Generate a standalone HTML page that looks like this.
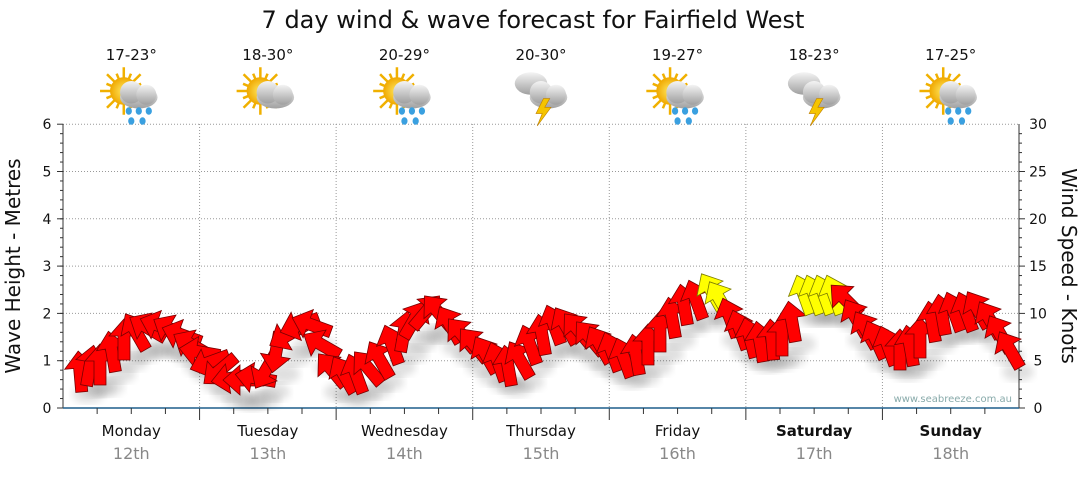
<!DOCTYPE html>
<html><head><meta charset="utf-8"><style>
body{margin:0;background:#fff;width:1080px;height:475px;overflow:hidden;font-family:"DejaVu Sans","Liberation Sans",sans-serif}
</style></head><body>
<svg id="s" width="1080" height="475" xmlns="http://www.w3.org/2000/svg" font-family="DejaVu Sans, Liberation Sans, sans-serif">
<defs>
<radialGradient id="sun" cx="50%" cy="50%" r="50%"><stop offset="0" stop-color="#ffe860"/><stop offset="1" stop-color="#f0a800"/></radialGradient>
<linearGradient id="cl" x1="0" y1="0" x2="0" y2="1"><stop offset="0" stop-color="#f4f4f4"/><stop offset="1" stop-color="#a0a0a0"/></linearGradient>
<filter id="sh"><feGaussianBlur stdDeviation="4"/></filter>
</defs>
<text x="533" y="28" font-size="24" text-anchor="middle" fill="#111">7 day wind &amp; wave forecast for Fairfield West</text>
<g id="g"></g>
</svg>
<script>
const NS="http://www.w3.org/2000/svg",g=document.getElementById('g');
function el(t,a,p){const e=document.createElementNS(NS,t);for(const k in a)e.setAttribute(k,a[k]);(p||g).appendChild(e);return e;}
function tx(x,y,s,a,fill,size,w){const e=el('text',{x,y,'text-anchor':a||'middle',fill:fill||'#111','font-size':size||14});if(w)e.setAttribute('font-weight',w);e.textContent=s;return e;}
const L=63,R=1019,Y0=408,PM=47.3,DW=(R-L)/7;
for(let i=1;i<=6;i++){const y=Y0-i*PM;el('line',{x1:L,x2:R,y1:y,y2:y,stroke:'#999','stroke-dasharray':'1,2'});}
for(let i=1;i<7;i++){const x=L+i*DW;el('line',{x1:x,x2:x,y1:124,y2:Y0,stroke:'#999','stroke-dasharray':'1,2'});el('line',{x1:x,x2:x,y1:Y0,y2:Y0+12,stroke:'#333'});}
el('line',{x1:L,x2:L,y1:124,y2:Y0,stroke:'#333'});el('line',{x1:R,x2:R,y1:124,y2:Y0,stroke:'#333'});
el('line',{x1:L,x2:R,y1:Y0,y2:Y0,stroke:'#1f5f8b','stroke-width':1.5});
for(let i=0;i<=6;i++){const y=Y0-i*PM;el('line',{x1:L-6,x2:L,y1:y,y2:y,stroke:'#333'});tx(47,y+5,String(i),'middle','#111',14);}
for(let i=0;i<30;i++){const y=Y0-i*PM/5;el('line',{x1:L-3,x2:L,y1:y,y2:y,stroke:'#333'});el('line',{x1:R,x2:R+(i%5?3:6),y1:y,y2:y,stroke:'#333'});}
for(let i=0;i<=6;i++){tx(1038,Y0-i*PM+5,String(i*5),'middle','#111',14);}
for(let i=0;i<28;i++){const x=L+i*DW/4;if(i%4)el('line',{x1:x,x2:x,y1:Y0,y2:Y0+6,stroke:'#333'});}
el('text',{x:20,y:266,'font-size':20,'text-anchor':'middle',transform:'rotate(-90 20 266)',fill:'#111'}).textContent='Wave Height - Metres';
el('text',{x:1062,y:266,'font-size':20,'text-anchor':'middle',transform:'rotate(90 1062 266)',fill:'#111'}).textContent='Wind Speed - Knots';
const days=['Monday','Tuesday','Wednesday','Thursday','Friday','Saturday','Sunday'],temps=['17-23°','18-30°','20-29°','20-30°','19-27°','18-23°','17-25°'],icons=[2,1,2,3,2,3,2];
days.forEach((d,i)=>{const cx=L+DW*(i+.5);tx(cx,436,d,'middle','#111',15,i>=5?'bold':null);tx(cx,459,(12+i)+'th','middle','#888',16);tx(cx,60,temps[i],'middle','#111',15);
 const ig=el('g',{transform:`translate(${cx},96) scale(1.25)`});const t=icons[i];
 if(t!=3){for(let a=0;a<16;a++){const r=a*Math.PI/8;const px=-6,py=-4;el('line',{x1:px+10*Math.cos(r),y1:py+10*Math.sin(r),x2:px+(a%2?15:19)*Math.cos(r),y2:py+(a%2?15:19)*Math.sin(r),stroke:'#f0b000','stroke-width':2},ig);}
 el('circle',{cx:-6,cy:-4,r:11,fill:'url(#sun)'},ig);}
 else{el('ellipse',{cx:-8,cy:-10,rx:13,ry:9,fill:'url(#cl)'},ig);}
 el('ellipse',{cx:6,cy:1,rx:15,ry:9,fill:'url(#cl)'},ig);el('circle',{cx:0,cy:-3,r:9,fill:'url(#cl)'},ig);el('circle',{cx:12,cy:-1,r:8,fill:'url(#cl)'},ig);
 if(t==2){[[-2,12],[6,12],[14,12],[0,20],[9,20]].forEach(p=>el('ellipse',{cx:p[0],cy:p[1],rx:2.5,ry:3,fill:'#3aa0e0'},ig));}
 if(t==3){el('polygon',{points:'2,2 -4,14 1,14 -3,24 8,9 3,9 7,2',fill:'#f5c400',stroke:'#c08000','stroke-width':.5},ig);}
});
tx(1012,402,'www.seabreeze.com.au','end','#8aa',10);
const pts=[[80,372,-5],[90,366,10],[100,365,0],[112,352,-10],[124,340,0],[136,332,-30],[148,328,-60],[160,326,-70],[172,330,-60],[182,335,-70],[192,345,-60],[200,352,-80],[210,362,-110],[220,370,-130],[232,378,-100],[244,380,-90],[256,378,-80],[266,370,-150],[276,352,-170],[288,335,-120],[300,325,-110],[312,325,-70],[322,345,-60],[332,370,-40],[344,375,-30],[356,374,-20],[368,368,-40],[380,360,-30],[392,345,-20],[404,332,10],[414,320,30],[426,312,40],[438,312,-40],[450,325,-30],[462,335,-40],[474,345,-40],[486,355,-30],[498,362,-20],[508,366,-10],[520,360,-30],[530,345,-20],[542,335,-10],[554,325,-20],[566,326,-30],[578,330,-40],[590,338,-40],[600,345,-30],[612,352,-20],[624,358,-20],[636,355,-10],[648,345,0],[660,332,0],[672,318,-10],[684,305,-10],[696,300,-20],[712,292,-30,1],[720,300,-30,1],[730,318,-20],[740,330,-20],[750,338,-15],[760,342,-10],[772,340,-5],[782,336,0],[792,322,-10],[804,295,-20,1],[814,295,-20,1],[824,295,-20,1],[834,295,-20,1],[846,300,-45],[856,318,-30],[866,330,-30],[876,340,-25],[888,346,-20],[900,350,0],[910,346,-10],[920,338,0],[932,322,-10],[942,315,-10],[954,312,-20],[966,312,-20],[978,310,-30],[990,320,-30],[1000,334,-30],[1010,350,-30]];
pts.forEach(p=>{el('ellipse',{cx:p[0]+8,cy:p[1]+22,rx:16,ry:9,fill:'#000',opacity:.12,filter:'url(#sh)'});});
pts.forEach(p=>{el('polygon',{points:'0,-21 15,-4 6,-4 6,20 -6,20 -6,-4 -15,-4',fill:p[3]?'#ffff00':'#ff0000',stroke:p[3]?'#7a7a00':'#700','stroke-width':.8,transform:`translate(${p[0]},${p[1]}) rotate(${p[2]})`});});
</script>
</body></html>
